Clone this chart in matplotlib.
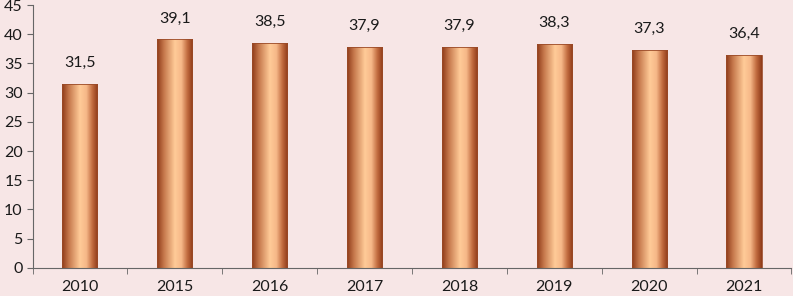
import numpy as np
import matplotlib
matplotlib.use('Agg')
import matplotlib.pyplot as plt
from matplotlib.colors import LinearSegmentedColormap

# data
years = ['2010', '2015', '2016', '2017', '2018', '2019', '2020', '2021']
values = [31.5, 39.1, 38.5, 37.9, 37.9, 38.3, 37.3, 36.4]
labels = ['31,5', '39,1', '38,5', '37,9', '37,9', '38,3', '37,3', '36,4']

bg = '#F7E6E6'
plt.rcParams['font.family'] = ['Lato', 'DejaVu Sans']

fig = plt.figure(figsize=[7.93, 2.96], dpi=100, facecolor=bg)
ax = fig.add_axes([0.041, 0.095, 0.957, 0.888])
ax.set_facecolor(bg)

x = np.arange(len(years))
w = 0.37
bars = ax.bar(x, values, width=w, color='none', edgecolor='#9A4A28', linewidth=0.6, zorder=3)

# horizontal gradient dark-light-dark in each bar
cmap = LinearSegmentedColormap.from_list('copper_bar', [
    (0.0, '#8E3A18'), (0.2, '#C77A4E'), (0.5, '#FFCB98'),
    (0.68, '#F6B888'), (0.85, '#C06A3E'), (1.0, '#8E3A18')])
grad = np.linspace(0, 1, 256).reshape(1, -1)
for b in bars:
    im = ax.imshow(grad, cmap=cmap, aspect='auto', zorder=2,
                   extent=[b.get_x(), b.get_x() + b.get_width(), 0, b.get_height()])
    im.set_clip_path(b)

for xi, v, lab in zip(x, values, labels):
    ax.text(xi, v + 2.4, lab, ha='center', va='bottom', fontsize=11.5, color='#1a1a1a')

ax.set_xlim(-0.5, len(years) - 0.5)
ax.set_ylim(0, 45)
ax.set_yticks(range(0, 46, 5))
ax.set_xticks(x)
ax.set_xticklabels(years)
ax.set_xticks(np.arange(-0.5, len(years), 1), minor=True)
ax.tick_params(axis='x', which='major', length=0, labelsize=11.5, pad=9, labelcolor='#1a1a1a')
ax.tick_params(axis='x', which='minor', length=4, color='#666666', direction='out')
ax.tick_params(axis='y', length=4, color='#666666', labelsize=11.5, pad=3, labelcolor='#1a1a1a')

for s in ['top', 'right']:
    ax.spines[s].set_visible(False)
ax.spines['left'].set_color('#666666')
ax.spines['bottom'].set_color('#666666')

plt.savefig('out.png', dpi=100, facecolor=bg)
